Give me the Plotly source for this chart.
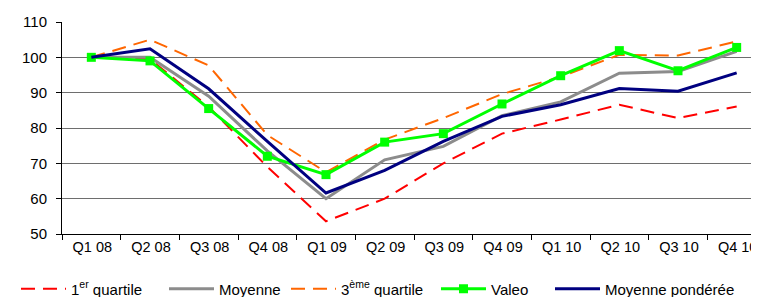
import plotly.graph_objects as go

categories = ["Q1 08", "Q2 08", "Q3 08", "Q4 08", "Q1 09", "Q2 09",
              "Q3 09", "Q4 09", "Q1 10", "Q2 10", "Q3 10", "Q4 10"]
quartile1 = [100, 99.5, 86, 69, 53.6, 60, 70, 78.4, 82.4, 86.6, 82.8, 86.1]
moyenne = [100, 100, 89, 73.5, 60, 71, 74.8, 83.5, 87.4, 95.5, 96, 101.7]
quartile3 = [100, 105, 97.7, 78, 67.5, 76.7, 82.8, 89.6, 94.5, 100.7, 100.5, 104.5]
valeo = [100, 99, 85.5, 72, 66.8, 76, 78.4, 86.8, 94.8, 101.9, 96.2, 102.8]
moy_ponderee = [100, 102.4, 91.1, 76.2, 61.6, 68, 76.2, 83.3, 86.6, 91.2, 90.4, 95.6]

W, H = 759, 297

fig = go.Figure()
fig.add_trace(go.Scatter(x=categories, y=quartile1, mode="lines", name="1<sup>er</sup> quartile",
                         line=dict(color="#ff0000", width=2, dash="14px,8px"), legend="legend"))
fig.add_trace(go.Scatter(x=categories, y=moyenne, mode="lines", name="Moyenne",
                         line=dict(color="#8c8c8c", width=3), legend="legend2"))
fig.add_trace(go.Scatter(x=categories, y=quartile3, mode="lines", name="3<sup>ème</sup> quartile",
                         line=dict(color="#ff6600", width=2, dash="14px,8px"), legend="legend3"))
fig.add_trace(go.Scatter(x=categories, y=valeo, mode="lines+markers", name="Valeo",
                         line=dict(color="#00ff00", width=3),
                         marker=dict(symbol="square", size=9, color="#00ff00"), legend="legend4"))
fig.add_trace(go.Scatter(x=categories, y=moy_ponderee, mode="lines", name="Moyenne pondérée",
                         line=dict(color="#000080", width=3), legend="legend5"))

def leg(px):
    return dict(orientation="h", x=px / W, xanchor="left", xref="container",
                y=-0.259, yanchor="middle", font=dict(size=15),
                itemwidth=45, bgcolor="rgba(0,0,0,0)")

fig.update_layout(
    width=W, height=H,
    margin=dict(l=54, r=1, t=14, b=71, autoexpand=False),
    paper_bgcolor="white", plot_bgcolor="white",
    font=dict(family="Liberation Sans, Arial, sans-serif", size=15, color="black"),
    legend=leg(8), legend2=leg(156), legend3=leg(278), legend4=leg(428), legend5=leg(542),
    showlegend=True,
)
fig.update_xaxes(type="category", range=[-0.5, 11.5], showgrid=False,
                 showline=True, linecolor="black", linewidth=1,
                 ticks="outside", tickson="boundaries", ticklen=5,
                 tickcolor="black", tickfont=dict(size=14.5), tickangle=0,
                 ticklabelshift=1, ticklabeloverflow="allow")
fig.update_yaxes(range=[50, 110], dtick=10, showgrid=True, gridcolor="#6e6e6e",
                 gridwidth=1, showline=True, linecolor="black", linewidth=1,
                 ticks="outside", ticklen=5, tickcolor="black", zeroline=False,
                 tickfont=dict(size=15), ticklabelstandoff=6)

fig.write_html("out.html")
